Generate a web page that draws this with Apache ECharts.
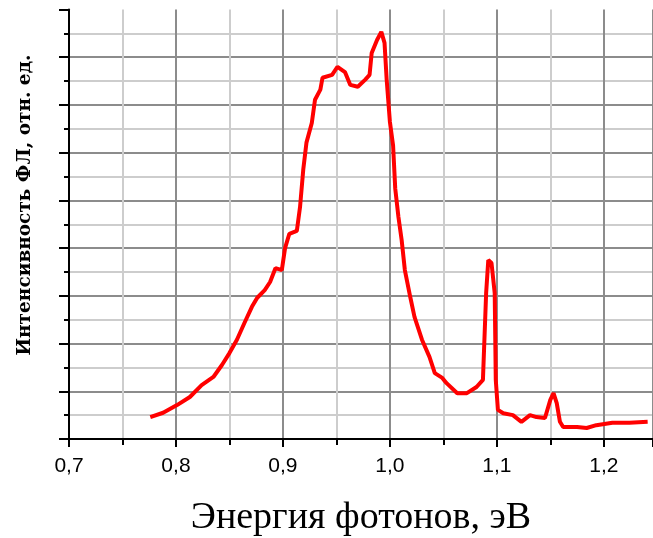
<!DOCTYPE html>
<html>
<head>
<meta charset="utf-8">
<script src="https://cdn.jsdelivr.net/npm/echarts@6/dist/echarts.min.js"></script>
<style>
html,body{margin:0;padding:0;background:#fff;}
#chart{width:653px;height:538px;}
</style>
</head>
<body>
<div id="chart"></div>
<script>
const energy = [
  0.776, 0.788, 0.801, 0.813, 0.824, 0.835, 0.843, 0.850, 0.857, 0.864,
  0.871, 0.876, 0.883, 0.888, 0.893, 0.899, 0.902, 0.906, 0.913, 0.916,
  0.919, 0.922, 0.927, 0.930, 0.935, 0.937, 0.946, 0.951, 0.958, 0.963,
  0.970, 0.977, 0.981, 0.983, 0.988, 0.992, 0.995, 0.997, 1.000, 1.003,
  1.005, 1.008, 1.011, 1.014, 1.019, 1.023, 1.030, 1.037, 1.042, 1.049,
  1.053, 1.063, 1.072, 1.081, 1.087, 1.090, 1.092, 1.095, 1.098, 1.099,
  1.101, 1.106, 1.115, 1.123, 1.131, 1.137, 1.145, 1.150, 1.153, 1.156,
  1.159, 1.162, 1.175, 1.184, 1.193, 1.208, 1.224, 1.241
];
const intensity = [
  0.46, 0.55, 0.71, 0.88, 1.13, 1.30, 1.55, 1.80, 2.08, 2.43,
  2.77, 2.96, 3.12, 3.29, 3.58, 3.54, 4.00, 4.30, 4.36, 4.86,
  5.64, 6.21, 6.62, 7.11, 7.32, 7.57, 7.63, 7.80, 7.69, 7.42,
  7.38, 7.53, 7.63, 8.09, 8.36, 8.53, 8.30, 7.53, 6.65, 6.15,
  5.25, 4.65, 4.17, 3.54, 2.98, 2.56, 2.08, 1.72, 1.38, 1.28,
  1.17, 0.96, 0.96, 1.09, 1.24, 3.06, 3.75, 3.69, 3.06, 1.24,
  0.61, 0.54, 0.50, 0.36, 0.50, 0.46, 0.44, 0.82, 0.96, 0.75,
  0.36, 0.25, 0.25, 0.23, 0.29, 0.34, 0.34, 0.36
];
const xTitle = 'Энергия фотонов, эВ';
const yTitle = 'Интенсивность ФЛ, отн. ед.';

const chart = echarts.init(document.getElementById('chart'), null, {renderer: 'canvas'});
const minorGrid = {show: true, lineStyle: {color: '#cdcdcd', width: 2}};
chart.setOption({
  animation: false,
  backgroundColor: '#ffffff',
  grid: {left: 69, right: 0, top: 9.5, bottom: 99, containLabel: false, outerBoundsMode: 'none'},
  xAxis: {
    type: 'value',
    min: 0.7, max: 1.246, interval: 0.1,
    axisLine: {show: true, lineStyle: {color: '#000', width: 2}},
    axisTick: {show: true, length: 8, lineStyle: {color: '#000', width: 2}},
    minorTick: {show: true, splitNumber: 2, length: 6, lineStyle: {color: '#000', width: 2}},
    splitLine: {show: true, lineStyle: {color: '#8c8c8c', width: 2}},
    minorSplitLine: minorGrid,
    axisLabel: {
      color: '#000', fontFamily: 'Liberation Sans', fontSize: 21, margin: 17,
      showMaxLabel: false,
      formatter: v => v.toFixed(1).replace('.', ',')
    },
    name: xTitle,
    nameLocation: 'middle',
    nameGap: 60,
    nameTextStyle: {color: '#000', fontFamily: 'Liberation Serif', fontSize: 38}
  },
  yAxis: {
    type: 'value',
    min: 0, max: 9, interval: 1,
    axisLine: {show: true, lineStyle: {color: '#000', width: 2}},
    axisTick: {show: true, length: 10, lineStyle: {color: '#000', width: 2}},
    minorTick: {show: true, splitNumber: 2, length: 5, lineStyle: {color: '#000', width: 2}},
    splitLine: {show: true, showMaxLine: false, lineStyle: {color: '#8c8c8c', width: 2}},
    minorSplitLine: minorGrid,
    axisLabel: {show: false}
  },
  graphic: [{
    type: 'text',
    x: 25, y: 205,
    rotation: Math.PI / 2,
    style: {
      text: yTitle,
      fill: '#000',
      font: 'bold 18.5px "DejaVu Serif"',
      textAlign: 'center',
      textVerticalAlign: 'middle'
    }
  }],
  series: [{
    type: 'line',
    data: energy.map((e, i) => [e, intensity[i]]),
    showSymbol: false,
    lineStyle: {color: '#ff0000', width: 4},
    itemStyle: {color: '#ff0000'}
  }]
});
</script>
</body>
</html>
